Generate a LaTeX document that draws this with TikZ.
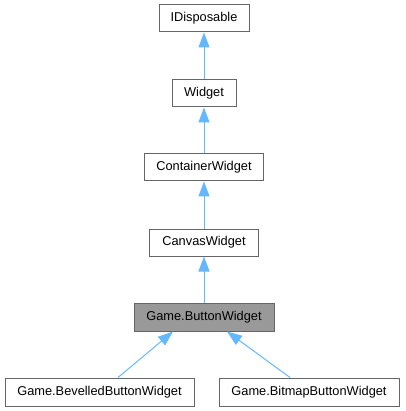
\documentclass[tikz,border=0pt]{standalone}
\usepackage{fontspec}
\setmainfont{Liberation Sans}
\usetikzlibrary{arrows.meta}
\definecolor{edgeblue}{HTML}{63B8FF}
\definecolor{boxline}{HTML}{666666}
\definecolor{cur}{HTML}{999999}
\begin{document}
\begin{tikzpicture}[x=1pt,y=-1pt,
  cls/.style={draw=boxline,line width=1pt,fill=white,inner sep=0pt,minimum height=27pt,
    font=\fontsize{12.8}{15}\selectfont,text=black},
  curcls/.style={cls,fill=cur},
  inh/.style={draw=edgeblue,line width=1pt,-{Triangle[length=15pt,width=11pt,fill=edgeblue]}}]
\useasboundingbox (0,0) rectangle (405,411);
\node[cls,minimum width=90pt] (idisp) at (204,18.5) {IDisposable};
\node[cls,minimum width=64pt] (widget) at (204,93.5) {Widget};
\node[cls,minimum width=119pt] (cont) at (204,167.5) {ContainerWidget};
\node[cls,minimum width=109pt] (canvas) at (204,242.5) {CanvasWidget};
\node[curcls,minimum width=140pt,minimum height=28pt] (btn) at (204,317) {Game.ButtonWidget};
\node[cls,minimum width=189pt,minimum height=28pt] (bev) at (99.5,392) {Game.BevelledButtonWidget};
\node[cls,minimum width=180pt,minimum height=28pt] (bmp) at (309,392) {Game.BitmapButtonWidget};
\draw[inh] (widget.north) -- (idisp.south);
\draw[inh] (cont.north) -- (widget.south);
\draw[inh] (canvas.north) -- (cont.south);
\draw[inh] (btn.north) -- (canvas.south);
\draw[inh] ([xshift=18.5pt]bev.north) -- ([xshift=-31pt]btn.south);
\draw[inh] ([xshift=-19pt]bmp.north) -- ([xshift=23pt]btn.south);
\end{tikzpicture}
\end{document}
